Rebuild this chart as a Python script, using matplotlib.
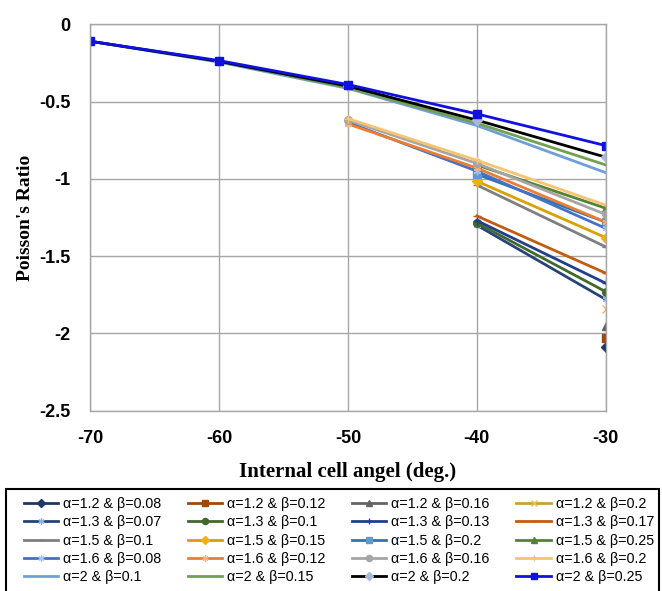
import matplotlib.pyplot as plt
from matplotlib.patches import Rectangle
import numpy as np

plt.rcParams.update({
    'font.family': ['Liberation Sans', 'DejaVu Sans'],
    'axes.linewidth': 1.0,
    'axes.unicode_minus': False,
})

# x positions (internal cell angle, deg.)
x_a2 = [-70, -60, -50, -40, -30]
x_a16 = [-50, -40, -30]
x_a15 = [-40, -30]
x_a13 = [-40, -30]
x_a12 = [-30]

# Poisson's ratio
y_a12_b008 = [-2.09]
y_a12_b012 = [-2.03]
y_a12_b016 = [-1.95]
y_a12_b020 = [-1.845]
y_a13_b007 = [-1.30, -1.78]
y_a13_b010 = [-1.285, -1.73]
y_a13_b013 = [-1.27, -1.675]
y_a13_b017 = [-1.24, -1.61]
y_a15_b010 = [-1.04, -1.44]
y_a15_b015 = [-1.015, -1.38]
y_a15_b020 = [-0.97, -1.28]
y_a15_b025 = [-0.91, -1.19]
y_a16_b008 = [-0.635, -0.95, -1.32]
y_a16_b012 = [-0.645, -0.93, -1.28]
y_a16_b016 = [-0.62, -0.90, -1.23]
y_a16_b020 = [-0.61, -0.88, -1.17]
y_a2_b010 = [-0.11, -0.245, -0.415, -0.655, -0.96]
y_a2_b015 = [-0.11, -0.24, -0.41, -0.64, -0.91]
y_a2_b020 = [-0.11, -0.24, -0.40, -0.62, -0.86]
y_a2_b025 = [-0.11, -0.235, -0.39, -0.58, -0.785]

series = [
    ('α=1.2 & β=0.08', x_a12, y_a12_b008, '#1f3864', 'D', '#1f3864'),
    ('α=1.2 & β=0.12', x_a12, y_a12_b012, '#9e480e', 's', '#9e480e'),
    ('α=1.2 & β=0.16', x_a12, y_a12_b016, '#636363', '^', '#636363'),
    ('α=1.2 & β=0.2', x_a12, y_a12_b020, '#c9a13a', 'x', '#e8b86a'),
    ('α=1.3 & β=0.07', x_a13, y_a13_b007, '#264478', (6, 2, 0), '#8eb4e3'),
    ('α=1.3 & β=0.1', x_a13, y_a13_b010, '#43682b', 'o', '#43682b'),
    ('α=1.3 & β=0.13', x_a13, y_a13_b013, '#203f8c', '+', '#203f8c'),
    ('α=1.3 & β=0.17', x_a13, y_a13_b017, '#c55a11', '_', '#c55a11'),
    ('α=1.5 & β=0.1', x_a15, y_a15_b010, '#7f7f7f', '_', '#7f7f7f'),
    ('α=1.5 & β=0.15', x_a15, y_a15_b015, '#d9a000', 'D', '#f0b400'),
    ('α=1.5 & β=0.2', x_a15, y_a15_b020, '#2e75b6', 's', '#5b9bd5'),
    ('α=1.5 & β=0.25', x_a15, y_a15_b025, '#548235', '^', '#548235'),
    ('α=1.6 & β=0.08', x_a16, y_a16_b008, '#4472c4', (6, 2, 0), '#a9c4eb'),
    ('α=1.6 & β=0.12', x_a16, y_a16_b012, '#ed7d31', (6, 2, 0), '#f4b183'),
    ('α=1.6 & β=0.16', x_a16, y_a16_b016, '#a5a5a5', 'o', '#a5a5a5'),
    ('α=1.6 & β=0.2', x_a16, y_a16_b020, '#f8c471', '+', '#f8c471'),
    ('α=2 & β=0.1', x_a2, y_a2_b010, '#6f9fd8', '', '#6f9fd8'),
    ('α=2 & β=0.15', x_a2, y_a2_b015, '#70a050', '', '#70a050'),
    ('α=2 & β=0.2', x_a2, y_a2_b020, '#000000', 'D', '#a9b8dc'),
    ('α=2 & β=0.25', x_a2, y_a2_b025, '#1010e0', 's', '#1010e0'),
]

fig = plt.figure(figsize=(6.62, 5.91), dpi=100)
ax = fig.add_axes([0.136, 0.305, 0.779, 0.654])

handles = []
for label, xs, ys, color, marker, mcolor in series:
    h, = ax.plot(xs, ys, color=color, lw=2, marker=marker, markersize=5.5,
                 markerfacecolor=mcolor, markeredgecolor=mcolor, label=label)
    handles.append(h)

ax.set_xlim(-70, -30)
ax.set_ylim(-2.5, 0)
ax.set_xticks([-70, -60, -50, -40, -30])
ax.set_yticks([0, -0.5, -1, -1.5, -2, -2.5])
ax.set_yticklabels(['0', '-0.5', '-1', '-1.5', '-2', '-2.5'])
ax.grid(True, color='#a6a6a6', lw=1.0)
ax.set_axisbelow(True)
for s in ax.spines.values():
    s.set_color('#a6a6a6')
ax.tick_params(length=0, labelsize=13)
ax.tick_params(axis='x', pad=14)
ax.tick_params(axis='y', pad=14)
for t in ax.get_xticklabels() + ax.get_yticklabels():
    t.set_fontweight('bold')

ax.set_xlabel('Internal cell angel (deg.)', fontsize=15, fontweight='bold',
              family='Liberation Serif', labelpad=11)
ax.set_ylabel("Poisson's Ratio", fontsize=14, fontweight='bold',
              family='Liberation Serif', labelpad=4)

# legend fills row by row, matplotlib fills column by column
ncol = 4
order = [r * ncol + c for c in range(ncol) for r in range(len(handles) // ncol)]
leg = fig.legend([handles[i] for i in order], [series[i][0] for i in order],
                 loc='upper left', bbox_to_anchor=(0.036, 0.159, 0.952, 0.0),
                 mode='expand', ncol=ncol, fontsize=10.3, frameon=False,
                 handlelength=2.4, handletextpad=0.35, labelspacing=0.3,
                 borderpad=0, borderaxespad=0, markerscale=0.8)

# legend box, cut by the bottom of the figure
fig.add_artist(Rectangle((6 / 662, -0.05), 653 / 662, 0.1726 + 0.05,
                         transform=fig.transFigure, fill=False,
                         edgecolor='black', lw=1.5, clip_on=False))

fig.savefig('out.png', dpi=100)
